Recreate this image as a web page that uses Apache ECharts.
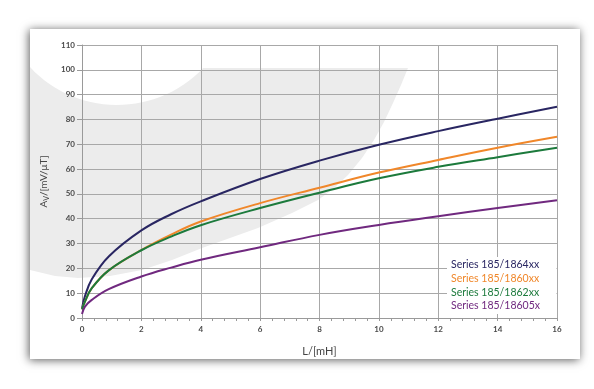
<!DOCTYPE html>
<html>
<head>
<meta charset="utf-8">
<script src="https://cdn.jsdelivr.net/npm/echarts@6/dist/echarts.min.js"></script>
<style>html,body{margin:0;padding:0;background:#fff}#c{width:594px;height:389px}</style>
</head>
<body>
<div id="c"></div>
<script>
var L = [0, 0.1, 0.33, 0.9, 2, 3, 4, 6, 8, 10, 12, 14, 16];
var s1864 = [3.9, 8.8, 15.6, 24.8, 35.3, 41.8, 47.0, 56.0, 63.4, 69.8, 75.3, 80.3, 85.1];
var s1860 = [3.5, 6.6, 12.0, 19.2, 27.4, 33.6, 38.9, 46.3, 52.5, 58.6, 63.7, 68.6, 73.0];
var s1862 = [3.5, 6.6, 12.0, 19.2, 27.3, 32.8, 37.4, 44.3, 50.5, 56.3, 60.9, 64.8, 68.6];
var s18605 = [1.6, 4.6, 7.3, 11.6, 16.7, 20.3, 23.5, 28.5, 33.5, 37.5, 41.0, 44.3, 47.4];
var names = ['Series 185/1864xx', 'Series 185/1860xx', 'Series 185/1862xx', 'Series 185/18605x'];
var colors = ['#292662', '#f0872a', '#1c7a3c', '#70297f'];
var values = [s1864, s1860, s1862, s18605];

function pairs(v){ return L.map(function(x,i){ return [x, v[i]]; }); }

// decorative background shape (grey swoosh with white cut-out)
var deco = [[30,270],[30,67]];
(function(){
  var cx=117, cy=-14, r=119;
  var a0 = Math.atan2(67-cy, 30-cx), a1 = Math.atan2(68-cy, 203-cx);
  for (var k=1;k<=30;k++){ var a=a0+(a1-a0)*k/30; deco.push([cx+r*Math.cos(a), cy+r*Math.sin(a)]); }
})();
deco = deco.concat([[408,68],[401,85],[393,103],[384,122],[374,140],[362,158],[348,175],[333,189],[318,200],[292,213],[258,228],[230,238],[202,248],[172,260],[142,270],[110,276],[78,278],[55,276]]);

var chart = echarts.init(document.getElementById('c'), null, {renderer:'canvas'});
var font = 'Lato, "Open Sans", sans-serif';
var option = {
  animation: false,
  backgroundColor: '#ffffff',
  graphic: [
    {type:'rect', z:-10, shape:{x:30,y:29,width:550,height:330},
     style:{fill:'#ffffff', shadowBlur:9, shadowColor:'rgba(0,0,0,0.65)', shadowOffsetX:-1, shadowOffsetY:1}},
    {type:'polygon', z:-9, shape:{points:deco}, style:{fill:'#ececec'}},
    {type:'rect', z:3, shape:{x:447,y:257,width:109.5,height:57}, style:{fill:'#ffffff'}}
  ],
  grid: {left:82, right:37, top:45, bottom:71, containLabel:false},
  xAxis: {
    type:'value', min:0, max:16, interval:2,
    name:'L/[mH]', nameLocation:'middle', nameGap:28,
    nameTextStyle:{color:'#444', fontSize:11, fontFamily:font},
    axisLine:{show:true, lineStyle:{color:'#9a9a9a', width:1}},
    axisTick:{show:true, length:3, lineStyle:{color:'#9a9a9a'}},
    minorTick:{show:true, splitNumber:5, length:3, lineStyle:{color:'#9a9a9a'}},
    axisLabel:{color:'#4a4a4a', fontSize:8, fontWeight:'bold', fontFamily:font, margin:7},
    splitLine:{show:true, lineStyle:{color:'#a8a8a8', width:1}}
  },
  yAxis: {
    type:'value', min:0, max:110, interval:10,
    name:'{a|A}{s|V}{a|/[mV/μT]}', nameLocation:'middle', nameGap:26,
    nameTextStyle:{color:'#444', fontSize:10, fontFamily:font,
      rich:{a:{fontSize:10, color:'#444', fontFamily:font}, s:{fontSize:7, color:'#444', fontFamily:font, verticalAlign:'bottom', padding:[5,0,0,0]}}},
    axisLine:{show:true, lineStyle:{color:'#9a9a9a', width:1}},
    axisTick:{show:true, length:5, lineStyle:{color:'#9a9a9a'}},
    axisLabel:{color:'#4a4a4a', fontSize:8, fontWeight:'bold', fontFamily:font, margin:7},
    splitLine:{show:true, lineStyle:{color:'#a8a8a8', width:1}}
  },
  legend: {
    orient:'vertical', left:446, top:257, padding:[1,0,0,0],
    itemWidth:0, itemHeight:0, itemGap:0, selectedMode:false,
    textStyle:{fontSize:10.5, lineHeight:13.7, fontFamily:font},
    data: names.map(function(n,i){ return {name:n, icon:'rect', textStyle:{color:colors[i]}}; })
  },
  series: values.map(function(v,i){
    return {name:names[i], type:'line', data:pairs(v), showSymbol:false, smooth:0.4,
      lineStyle:{color:colors[i], width:2}, itemStyle:{color:colors[i]}, z:2};
  })
};
chart.setOption(option);
</script>
</body>
</html>
